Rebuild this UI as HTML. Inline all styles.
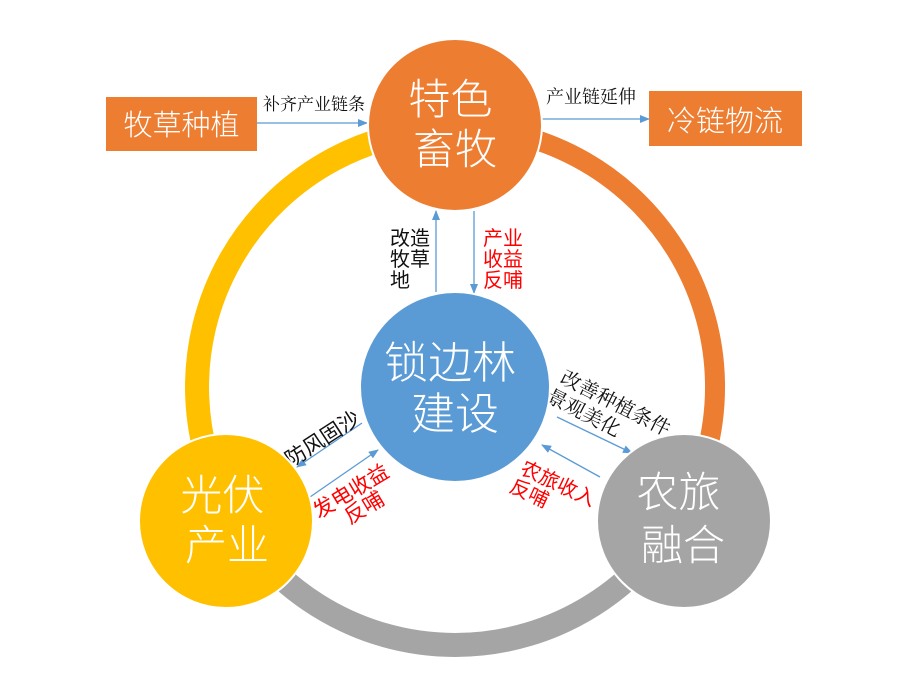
<!DOCTYPE html>
<html>
<head>
<meta charset="utf-8">
<style>
  html, body { margin:0; padding:0; background:#ffffff; }
  body { width:900px; height:688px; overflow:hidden; }
  svg { display:block; }
  .w { fill:#ffffff; font-family:"Noto Sans CJK SC","Liberation Sans",sans-serif; font-weight:300; }
  .lbl { fill:#111111; font-family:"Liberation Serif","Noto Serif CJK SC",serif; }
  .lbls { fill:#111111; font-family:"Liberation Sans","Noto Sans CJK SC",sans-serif; }
  .red { fill:#ff0000; font-family:"Liberation Sans","Noto Sans CJK SC",sans-serif; }
</style>
</head>
<body>
<svg width="900" height="688" viewBox="0 0 900 688" xmlns="http://www.w3.org/2000/svg">
  <defs>
    <marker id="ah" markerWidth="10" markerHeight="8" refX="9" refY="4" orient="auto" markerUnits="userSpaceOnUse">
      <path d="M0,0 L10,4 L0,8 Z" fill="#5b9bd5"/>
    </marker>
  </defs>

  <!-- ring arcs -->
  <path d="M455,129 A258,258 0 0 0 231.6,516" fill="none" stroke="#ffc000" stroke-width="24"/>
  <path d="M455,127 A260,260 0 0 1 680.2,517" fill="none" stroke="#ed7d31" stroke-width="20"/>
  <path d="M678.4,516 A258,258 0 0 1 231.6,516" fill="none" stroke="#a5a5a5" stroke-width="24"/>

  <!-- side boxes -->
  <rect x="106" y="97" width="151" height="54" fill="#ed7d31"/>
  <text class="w" x="181.5" y="135" font-size="29" text-anchor="middle">牧草种植</text>
  <rect x="649" y="91" width="153" height="55" fill="#ed7d31"/>
  <text class="w" x="725" y="131" font-size="29" text-anchor="middle">冷链物流</text>

  <!-- top arrows -->
  <line x1="257" y1="123" x2="367" y2="123" stroke="#5b9bd5" stroke-width="1.3" marker-end="url(#ah)"/>
  <text class="lbl" x="263" y="110" font-size="17">补齐产业链条</text>
  <line x1="542" y1="119" x2="649" y2="119" stroke="#5b9bd5" stroke-width="1.3" marker-end="url(#ah)"/>
  <text class="lbl" x="546" y="103" font-size="18">产业链延伸</text>

  <!-- vertical arrows -->
  <line x1="436" y1="292" x2="436" y2="211" stroke="#5b9bd5" stroke-width="1.3" marker-end="url(#ah)"/>
  <line x1="474" y1="211" x2="474" y2="293" stroke="#5b9bd5" stroke-width="1.3" marker-end="url(#ah)"/>
  <text class="lbls" font-size="20">
    <tspan x="390" y="245">改造</tspan>
    <tspan x="390" y="266">牧草</tspan>
    <tspan x="390" y="287">地</tspan>
  </text>
  <text class="red" font-size="20">
    <tspan x="483" y="245">产业</tspan>
    <tspan x="483" y="266">收益</tspan>
    <tspan x="483" y="287">反哺</tspan>
  </text>

  <!-- left arrows -->
  <line x1="362" y1="423" x2="297" y2="467" stroke="#5b9bd5" stroke-width="1.3" marker-end="url(#ah)"/>
  <line x1="310" y1="497" x2="378" y2="450" stroke="#5b9bd5" stroke-width="1.3" marker-end="url(#ah)"/>
  <g transform="translate(322,438) rotate(-33)">
    <text class="lbls" x="0" y="8" font-size="21" text-anchor="middle">防风固沙</text>
  </g>
  <g transform="translate(353,489) rotate(-31)">
    <text class="red" font-size="21" text-anchor="middle">
      <tspan x="0" y="8">发电收益</tspan>
      <tspan x="0" y="29">反哺</tspan>
    </text>
  </g>

  <!-- right arrows -->
  <line x1="557" y1="417" x2="632" y2="453" stroke="#5b9bd5" stroke-width="1.3" marker-end="url(#ah)"/>
  <line x1="600" y1="477" x2="542" y2="445" stroke="#5b9bd5" stroke-width="1.3" marker-end="url(#ah)"/>
  <g transform="translate(559,382) rotate(27)">
    <text class="lbl" font-size="20">
      <tspan x="0" y="0">改善种植条件<tspan font-size="22" fill="#000">，</tspan></tspan>
      <tspan x="-4" y="23">景观美化</tspan>
    </text>
  </g>
  <g transform="translate(519,473) rotate(25)">
    <text class="red" font-size="20">
      <tspan x="0" y="0">农旅收入</tspan>
      <tspan x="-2" y="21">反哺</tspan>
    </text>
  </g>

  <!-- nodes -->
  <ellipse cx="455" cy="125" rx="87" ry="86" fill="#ed7d31" stroke="#ffffff" stroke-width="2"/>
  <text class="w" font-size="42" text-anchor="middle">
    <tspan x="455" y="114">特色</tspan>
    <tspan x="455" y="164">畜牧</tspan>
  </text>

  <circle cx="455" cy="387" r="95" fill="#5b9bd5" stroke="#ffffff" stroke-width="2"/>
  <text class="w" font-size="44" text-anchor="middle">
    <tspan x="455" y="378">锁边林</tspan>
    <tspan x="455" y="429">建设</tspan>
  </text>

  <circle cx="226" cy="521" r="87" fill="#ffc000" stroke="#ffffff" stroke-width="2"/>
  <text class="w" font-size="42" text-anchor="middle">
    <tspan x="227" y="510">光伏</tspan>
    <tspan x="227" y="560">产业</tspan>
  </text>

  <circle cx="684" cy="521" r="87" fill="#a5a5a5" stroke="#ffffff" stroke-width="2"/>
  <text class="w" font-size="42" text-anchor="middle">
    <tspan x="683" y="507">农旅</tspan>
    <tspan x="683" y="560">融合</tspan>
  </text>
</svg>
</body>
</html>
